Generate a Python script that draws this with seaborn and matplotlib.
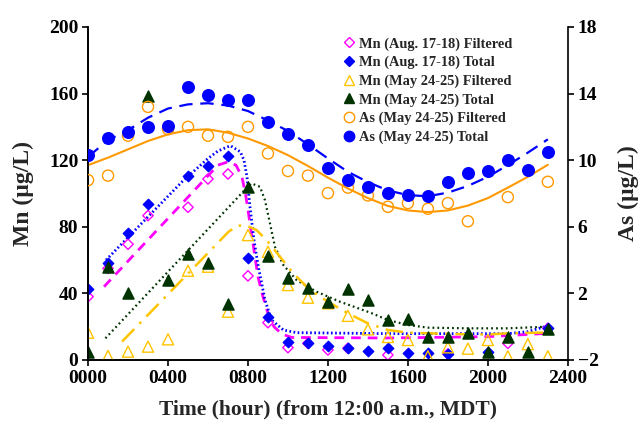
import numpy as np
import matplotlib
matplotlib.use("Agg")
import matplotlib.pyplot as plt
import seaborn as sns
from matplotlib.lines import Line2D

nan = np.nan
hours = [0, 100, 200, 300, 400, 500, 600, 700, 800, 900, 1000, 1100,
         1200, 1300, 1400, 1500, 1600, 1700, 1800, 1900, 2000, 2100, 2200, 2300]

mn_aug_filt = [38, 55, 69.5, 86.7, nan, 91.7, 108.7, 111.7, 50.5, 22.4, 7.4, 10,
               6, 7, nan, 3, nan, nan, 3.6, nan, nan, 10, nan, 19]
mn_aug_total = [42.5, 58, 76, 93.7, nan, 110.5, 116.5, 122.5, 61.4, 26, 11, 10,
                8.4, 7, 5.2, 7.2, 4, 4, 3.6, nan, 5, nan, nan, 19.4]
mn_may_filt = [16.4, 2.4, 5, 8, 12.4, 53.6, 56, 29, 75, 65, 45, 37.4,
               34, 26.5, 18.4, 13.8, 12, 2.2, 7.6, 6.8, 12, 2.2, 9.5, 2.2]
mn_may_total = [5, 56, 40, 158.7, 48, 63.7, 58.5, 33.4, 103.7, 62.5, 49.4, 43,
                35, 42.4, 36, 24, 24.4, 14, 14, 16, 4.8, 13.8, 5, 18.6]
as_filt = [8.8, 9.07, 11.47, 13.2, 11.86, 12.0, 11.47, 11.4, 12.0, 10.4, 9.35, 9.07,
           8.02, 8.35, 7.88, 7.2, 7.42, 7.08, 7.42, 6.33, nan, 7.78, nan, 8.7]
as_total = [10.3, 11.32, 11.68, 12.0, 12.08, 14.38, 13.9, 13.6, 13.6, 12.3, 11.57, 10.9,
            9.53, 8.8, 8.37, 8.0, 7.9, 7.87, 8.7, 9.2, 9.37, 9.98, 9.4, 10.5]

# fitted trend curves
as_total_fit = [10.2, 11.2, 11.8, 12.55, 13.1, 13.35, 13.42, 13.28, 12.95, 12.38, 11.75, 10.95,
                10.1, 9.3, 8.68, 8.18, 7.9, 7.83, 8.05, 8.45, 9.0, 9.7, 10.45, 11.25]
as_filt_fit = [9.7, 10.15, 10.65, 11.15, 11.55, 11.8, 11.85, 11.65, 11.3, 10.85, 10.3, 9.65,
               8.95, 8.3, 7.72, 7.25, 6.98, 6.88, 6.98, 7.27, 7.72, 8.35, 9.0, 9.72]

aug_filt_fit_t = [80, 650, 700, 740, 770, 790, 810, 830, 850, 875, 900, 930, 970, 1020, 1500, 2000, 2300]
aug_filt_fit = [44, 117, 119, 117, 110, 98, 82, 66, 50, 38, 28, 20, 15.5, 13.5, 13.2, 14, 16]

aug_total_fit_t = [90, 470, 600, 650, 712, 762, 780, 795, 810, 830, 852, 885, 918, 977, 1043,
                   1500, 2100, 2200, 2300]
aug_total_fit = [60, 107, 121, 125.5, 128.7, 125, 120, 110, 92, 72, 56, 36, 24, 18, 16.4,
                 15.8, 15.8, 17, 20.5]

may_total_fit_t = [87, 795, 818, 860, 885, 910, 935, 977, 1043, 1143, 1260, 1410, 1500, 1600,
                   1700, 1900, 2100, 2300]
may_total_fit = [13, 103.5, 106, 104, 96, 82, 68, 57, 48, 41, 35, 28.5, 24, 21, 19.4, 19, 19, 20]

may_filt_fit_t = [170, 703, 745, 787, 843, 893, 960, 1027, 1110, 1200, 1300, 1400, 1500, 1600,
                  1700, 1900, 2000, 2100, 2300]
may_filt_fit = [11, 77, 80.5, 81, 78, 72, 62, 52, 42, 35, 28, 22, 18, 16.4, 16, 15.4, 15.3, 16, 16.5]

x_ticks = [0, 400, 800, 1200, 1600, 2000, 2400]
x_labels = ["0000", "0400", "0800", "1200", "1600", "2000", "2400"]
mn_ticks = [0, 40, 80, 120, 160, 200]
as_ticks = [-2, 2, 6, 10, 14, 18]

labels = ["Mn (Aug. 17-18) Filtered", "Mn (Aug. 17-18) Total",
          "Mn (May 24-25) Filtered", "Mn (May 24-25) Total",
          "As (May 24-25) Filtered", "As (May 24-25) Total"]

MAG = "#FF00FF"
BLUE = "#0000FF"
YEL = "#FFC400"
DKG = "#003300"
ORG = "#FF9900"

sns.set_theme(style="ticks")
plt.rcParams["font.family"] = ["Liberation Serif", "DejaVu Serif"]
plt.rcParams["font.weight"] = "bold"
plt.rcParams["axes.labelweight"] = "bold"
plt.rcParams["axes.linewidth"] = 1.2
plt.rcParams["xtick.major.width"] = 1.2
plt.rcParams["ytick.major.width"] = 1.2
plt.rcParams["xtick.major.size"] = 4
plt.rcParams["ytick.major.size"] = 4
plt.rcParams["axes.edgecolor"] = "black"

fig = plt.figure(figsize=(6.38, 4.21), dpi=100)
ax = fig.add_axes([0.138, 0.145, 0.752, 0.791])
ax2 = ax.twinx()

# Mn curves
sns.lineplot(x=aug_filt_fit_t, y=aug_filt_fit, ax=ax, color=MAG, lw=2,
             linestyle=(0, (3.5, 2.5)), sort=False, estimator=None)
sns.lineplot(x=aug_total_fit_t, y=aug_total_fit, ax=ax, color=BLUE, lw=2,
             linestyle=(0, (0.6, 0.9)), sort=False, estimator=None)
sns.lineplot(x=may_total_fit_t, y=may_total_fit, ax=ax, color=DKG, lw=1.6,
             linestyle=(0, (0.8, 1.4)), sort=False, estimator=None)
sns.lineplot(x=may_filt_fit_t, y=may_filt_fit, ax=ax, color=YEL, lw=1.8,
             linestyle=(0, (7, 3, 1, 3)), sort=False, estimator=None)

# Mn points
sns.scatterplot(x=hours, y=mn_aug_filt, ax=ax, marker="D", s=28, fc="none", ec=MAG, linewidth=1.0, zorder=3)
sns.scatterplot(x=hours, y=mn_aug_total, ax=ax, marker="D", s=28, color=BLUE, ec=BLUE, linewidth=1.0, zorder=3)
sns.scatterplot(x=hours, y=mn_may_filt, ax=ax, marker="^", s=64, fc="none", ec=YEL, linewidth=1.0, zorder=3)
sns.scatterplot(x=hours, y=mn_may_total, ax=ax, marker="^", s=64, color=DKG, ec=DKG, linewidth=1.0, zorder=3)

# As curves and points
sns.lineplot(x=hours, y=as_total_fit, ax=ax2, color=BLUE, lw=1.6,
             linestyle=(0, (6, 3.5)), sort=False, estimator=None)
sns.lineplot(x=hours, y=as_filt_fit, ax=ax2, color=ORG, lw=1.5, sort=False, estimator=None)
sns.scatterplot(x=hours, y=as_filt, ax=ax2, marker="o", s=64, fc="none", ec=ORG, linewidth=1.0, zorder=3)
sns.scatterplot(x=hours, y=as_total, ax=ax2, marker="o", s=70, color=BLUE, ec=BLUE, linewidth=1.0, zorder=3)

ax.set_xlim(0, 2400)
ax.set_ylim(0, 200)
ax2.set_ylim(-2, 18)
ax.set_xticks(x_ticks)
ax.set_xticklabels(x_labels)
ax.set_yticks(mn_ticks)
ax2.set_yticks(as_ticks)
for a in (ax, ax2):
    a.tick_params(labelsize=14, colors="black", direction="out", pad=3)
    a.spines["top"].set_visible(False)
    for t in a.get_xticklabels() + a.get_yticklabels():
        t.set_fontweight("bold")
ax.spines["right"].set_visible(False)

ax.set_xlabel("Time (hour) (from 12:00 a.m., MDT)", fontsize=15.5, fontweight="bold", labelpad=9)
ax.set_ylabel("Mn (µg/L)", fontsize=17, fontweight="bold", labelpad=11)
ax2.set_ylabel("As (µg/L)", fontsize=17, fontweight="bold", rotation=90, labelpad=14)

handles = [
    Line2D([], [], ls="none", marker="D", ms=5.3, mfc="none", mec=MAG, mew=1.0),
    Line2D([], [], ls="none", marker="D", ms=5.3, mfc=BLUE, mec=BLUE),
    Line2D([], [], ls="none", marker="^", ms=7.5, mfc="none", mec=YEL, mew=1.0),
    Line2D([], [], ls="none", marker="^", ms=7.5, mfc=DKG, mec=DKG),
    Line2D([], [], ls="none", marker="o", ms=7.5, mfc="none", mec=ORG, mew=1.0),
    Line2D([], [], ls="none", marker="o", ms=7.5, mfc=BLUE, mec=BLUE),
]
leg = ax2.legend(handles, labels, loc="upper left", bbox_to_anchor=(0.51, 1.0),
                 frameon=False, handlelength=0.8, handletextpad=0.3, labelspacing=0.36,
                 borderpad=0.2, prop={"family": "Liberation Serif", "weight": "bold", "size": 10.4})

fig.savefig("out.png", dpi=100)
